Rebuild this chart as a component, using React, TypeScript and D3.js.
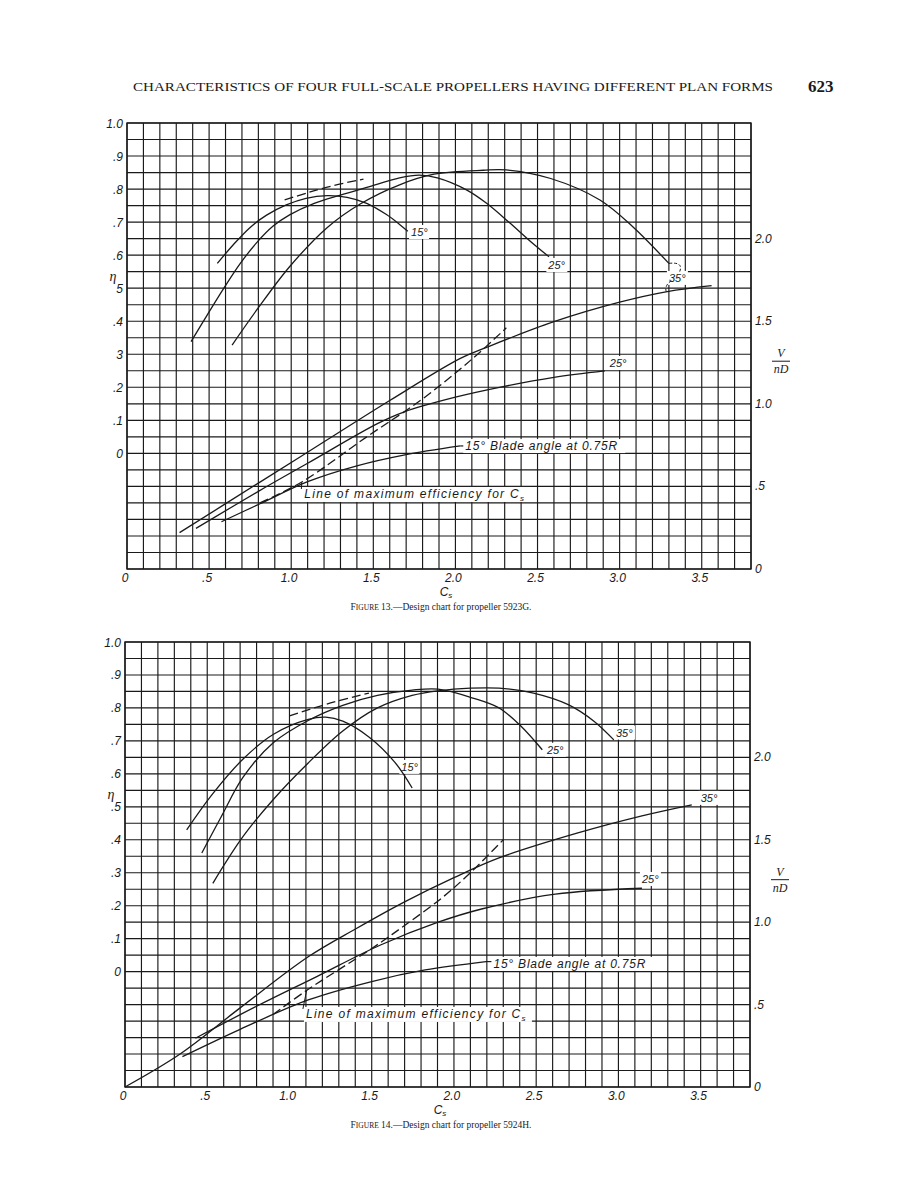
import React from "react";
import * as d3 from "d3";

type P = [number, number];

// ---------- shared axis data ----------
const csTicks = [0, 0.5, 1.0, 1.5, 2.0, 2.5, 3.0, 3.5];
const csTickLabels = ["0", ".5", "1.0", "1.5", "2.0", "2.5", "3.0", "3.5"];
const etaTicks = [1.0, 0.9, 0.8, 0.7, 0.6, 0.5, 0.4, 0.3, 0.2, 0.1, 0];
const etaLabels13 = ["1.0", ".9", ".8", ".7", ".6", "5", ".4", "3", ".2", ".1", "0"];
const etaLabels14 = ["1.0", ".9", ".8", ".7", ".6", ".5", ".4", ".3", ".2", ".1", "0"];
const vTicks = [2.0, 1.5, 1.0, 0.5, 0];
const vTickLabels = ["2.0", "1.5", "1.0", ".5", "0"];

// ---------- Figure 13 (propeller 5923G) ----------
const c13Eta15: P[] = [[0.55,0.575],[0.65,0.633],[0.75,0.684],[0.85,0.721],[0.97,0.752],[1.09,0.772],[1.22,0.780],[1.34,0.775],[1.46,0.757],[1.58,0.723],[1.66,0.693],[1.71,0.672]];
const c13Eta25: P[] = [[0.39,0.338],[0.49,0.42],[0.59,0.50],[0.69,0.575],[0.79,0.638],[0.89,0.688],[0.99,0.722],[1.14,0.757],[1.30,0.782],[1.46,0.805],[1.66,0.834],[1.78,0.842],[1.89,0.834],[2.07,0.797],[2.19,0.757],[2.33,0.698],[2.47,0.636],[2.57,0.595]];
const c13Eta35: P[] = [[0.64,0.328],[0.79,0.434],[0.99,0.565],[1.22,0.684],[1.42,0.755],[1.66,0.813],[1.87,0.845],[2.17,0.857],[2.31,0.858],[2.58,0.832],[2.88,0.767],[3.08,0.686],[3.30,0.575]];
const c13Env: P[] = [[0.96,0.767],[1.10,0.789],[1.26,0.811],[1.44,0.830]];
const c13V15: P[] = [[0.575,0.286],[0.81,0.395],[1.10,0.529],[1.40,0.625],[1.685,0.69],[2.03,0.745]];
const c13V25: P[] = [[0.42,0.246],[0.80,0.47],[1.10,0.64],[1.525,0.88],[1.685,0.95],[2.0,1.04],[2.29,1.104],[2.6,1.16],[2.91,1.199]];
const c13V35: P[] = [[0.32,0.22],[0.8,0.52],[1.2,0.77],[1.6,1.02],[2.03,1.275],[2.19,1.342],[2.6,1.497],[3.0,1.615],[3.29,1.679],[3.56,1.715]];
const c13MaxEff: P[] = [[0.81,0.40],[1.07,0.53],[1.46,0.80],[1.80,1.03],[2.10,1.27],[2.31,1.46]];

// ---------- Figure 14 (propeller 5924H) ----------
const c14Eta15: P[] = [[0.375,0.43],[0.534,0.54],[0.718,0.645],[0.903,0.72],[1.114,0.765],[1.22,0.772],[1.324,0.760],[1.483,0.712],[1.641,0.635],[1.746,0.557]];
const c14Eta25: P[] = [[0.467,0.36],[0.585,0.47],[0.718,0.59],[0.903,0.695],[1.114,0.762],[1.324,0.808],[1.535,0.838],[1.746,0.854],[1.904,0.857],[2.115,0.83],[2.274,0.80],[2.405,0.746],[2.537,0.673]];
const c14Eta35: P[] = [[0.534,0.268],[0.718,0.41],[0.903,0.523],[1.114,0.633],[1.324,0.73],[1.535,0.80],[1.746,0.838],[1.904,0.852],[2.1,0.86],[2.274,0.86],[2.484,0.845],[2.695,0.81],[2.853,0.759],[2.972,0.703]];
const c14Env: P[] = [[1.0,0.776],[1.25,0.815],[1.483,0.845]];
const c14V15: P[] = [[0.349,0.184],[0.7,0.35],[1.114,0.528],[1.5,0.64],[1.825,0.71],[2.195,0.761]];
const c14V25: P[] = [[0.428,0.296],[0.8,0.49],[1.166,0.67],[1.55,0.86],[1.904,1.0],[2.168,1.08],[2.616,1.17],[3.143,1.206]];
const c14V35: P[] = [[0,0],[0.335,0.2],[0.7,0.48],[1.114,0.79],[1.404,0.96],[1.694,1.12],[2.0,1.27],[2.274,1.39],[2.748,1.54],[3.143,1.645],[3.446,1.712]];
const c14MaxEff: P[] = [[0.9,0.44],[1.11,0.59],[1.5,0.84],[1.7,0.98],[1.93,1.15],[2.1,1.30],[2.3,1.50]];

const INK = "#1a1a1a";
const LBL = "'Liberation Sans', Arial, sans-serif";
const SERIF = "'Liberation Serif', 'Times New Roman', serif";

type Series = { data: P[]; axis: "eta" | "v"; dashed?: boolean };
type Label = { text: string; cs: number; val: number; axis: "eta" | "v"; bg?: number; size?: number; ls?: number };

type ChartCfg = {
  left: number; right: number; top: number; bottom: number;
  etaLabels: string[];
  series: Series[];
  labels: Label[];
  v15: P[]; maxEff: P[]; blade: Label; maxLbl: Label;
  caption: string; csLabelX: number;
  arc35?: { eta: P[]; v: P[] };
};

function Chart({ c }: { c: ChartCfg }) {
  const x = d3.scaleLinear().domain([0, 3.8]).range([c.left, c.right]);
  const yV = d3.scaleLinear().domain([0, 2.7]).range([c.bottom, c.top]);
  const yE = d3.scaleLinear().domain([-0.35, 1.0]).range([c.bottom, c.top]);
  const yOf = (axis: "eta" | "v") => (axis === "eta" ? yE : yV);
  const xGrid = d3.range(0, 39).map((i) => i / 10);
  const yGrid = d3.range(0, 28).map((i) => i / 10);
  const mk = (axis: "eta" | "v") =>
    d3.line<P>().x((d) => x(d[0])).y((d) => yOf(axis)(d[1])).curve(d3.curveCatmullRom.alpha(0.5));

  const renderLabel = (l: Label, key: string) => {
    const lx = x(l.cs);
    const ly = yOf(l.axis)(l.val);
    return (
      <text key={key} x={lx} y={ly} fontFamily={LBL} fontStyle="italic" fontSize={l.size ?? 12}
        letterSpacing={l.ls ?? 0} fill={INK}>
        {l.text.endsWith("Cs") ? (
          <>
            {l.text.slice(0, -2)}C<tspan fontSize={8} dy={3}>s</tspan>
          </>
        ) : l.text}
      </text>
    );
  };

  const v15End = c.v15[c.v15.length - 1];
  const bx = x(c.blade.cs);
  const by = yV(c.blade.val);
  const leadPt = c.maxEff[1];
  const mlx = x(c.maxLbl.cs);
  const mly = yV(c.maxLbl.val);

  let arc: React.ReactNode = null;
  if (c.arc35) {
    const e = c.arc35.eta[c.arc35.eta.length - 1];
    const v = c.arc35.v[8];
    const ex = x(e[0]), ey = yE(e[1]);
    const vx = x(v[0]), vy = yV(v[1]);
    arc = (
      <g fill="none" stroke={INK} strokeWidth={1} strokeDasharray="3 2">
        <path d={`M${ex},${ey} Q${ex + 16},${ey - 2} ${ex + 10},${ey + 10}`} />
        <path d={`M${vx + 4},${vy - 11} Q${vx - 3},${vy - 6} ${vx - 1},${vy}`} />
      </g>
    );
  }

  return (
    <g>
      {/* grid */}
      <g stroke={INK} strokeWidth={1.15}>
        {xGrid.map((g) => (
          <line key={"x" + g} x1={x(g)} x2={x(g)} y1={c.top} y2={c.bottom} />
        ))}
        {yGrid.map((g) => (
          <line key={"y" + g} x1={c.left} x2={c.right} y1={yV(g)} y2={yV(g)} />
        ))}
      </g>
      <rect x={c.left} y={c.top} width={c.right - c.left} height={c.bottom - c.top}
        fill="none" stroke={INK} strokeWidth={1.4} />

      {/* label backgrounds */}
      {c.labels.filter((l) => l.bg).map((l, i) => (
        <rect key={"bg" + i} x={x(l.cs) - 2} y={yOf(l.axis)(l.val) - 11} width={l.bg} height={14} fill="#fff" />
      ))}
      <rect x={bx - 2} y={by - 11} width={c.blade.bg} height={14} fill="#fff" />
      <rect x={mlx - 2} y={mly - 11} width={c.maxLbl.bg} height={15} fill="#fff" />

      {/* curves */}
      {c.series.map((s, i) => (
        <path key={"s" + i} d={mk(s.axis)(s.data) || ""} fill="none" stroke={INK}
          strokeWidth={1.3} strokeDasharray={s.dashed ? "9 4" : undefined} />
      ))}
      {arc}

      {/* leaders */}
      <line x1={x(v15End[0])} y1={yV(v15End[1])} x2={bx - 2} y2={yV(v15End[1])} stroke={INK} strokeWidth={1.2} />
      <line x1={mlx - 3} y1={mly - 9} x2={x(leadPt[0]) - 1} y2={yV(leadPt[1]) + 1} stroke={INK} strokeWidth={1} />

      {/* labels */}
      {c.labels.map((l, i) => renderLabel(l, "l" + i))}
      {renderLabel(c.blade, "blade")}
      {renderLabel(c.maxLbl, "maxl")}

      {/* left eta axis */}
      {etaTicks.map((t, i) => (
        <text key={"e" + i} x={c.left - 4} y={yE(t) + 4.5} textAnchor="end" fontFamily={LBL}
          fontStyle="italic" fontSize={12} fill={INK}>{c.etaLabels[i]}</text>
      ))}
      <text x={c.left - 14} y={yE(0.535) + 4} textAnchor="middle" fontFamily={SERIF} fontStyle="italic"
        fontSize={14} fill={INK}>η</text>

      {/* right V/nD axis */}
      {vTicks.map((t, i) => (
        <text key={"v" + i} x={c.right + 4} y={yV(t) + 4} fontFamily={LBL} fontStyle="italic"
          fontSize={12} fill={INK}>{vTickLabels[i]}</text>
      ))}
      <g fontFamily={SERIF} fontStyle="italic" fontSize={12} fill={INK} textAnchor="middle">
        <text x={c.right + 30} y={yV(1.27) - 2}>V</text>
        <line x1={c.right + 21} x2={c.right + 39} y1={yV(1.27) + 2} y2={yV(1.27) + 2} stroke={INK} strokeWidth={1} />
        <text x={c.right + 30} y={yV(1.27) + 14}>nD</text>
      </g>

      {/* bottom Cs axis */}
      {csTicks.map((t, i) => (
        <text key={"c" + i} x={x(t) - 2} y={c.bottom + 13} textAnchor="middle" fontFamily={LBL}
          fontStyle="italic" fontSize={12} fill={INK}>{csTickLabels[i]}</text>
      ))}
      <text x={c.csLabelX} y={c.bottom + 27} textAnchor="middle" fontFamily={LBL} fontStyle="italic"
        fontSize={12} fill={INK}>C<tspan fontSize={8} dy={2}>s</tspan></text>

      {/* caption */}
      <text x={441} y={c.bottom + 41} textAnchor="middle" fontFamily={SERIF} fontSize={9.5} fill={INK}>
        F<tspan fontSize={7.5}>IGURE</tspan>{c.caption}
      </text>
    </g>
  );
}

const chart13: ChartCfg = {
  left: 127, right: 751, top: 123, bottom: 569,
  etaLabels: etaLabels13,
  series: [
    { data: c13Eta15, axis: "eta" },
    { data: c13Eta25, axis: "eta" },
    { data: c13Eta35, axis: "eta" },
    { data: c13Env, axis: "eta", dashed: true },
    { data: c13V15, axis: "v" },
    { data: c13V25, axis: "v" },
    { data: c13V35, axis: "v" },
    { data: c13MaxEff, axis: "v", dashed: true },
  ],
  labels: [
    { text: "15°", cs: 1.73, val: 0.658, axis: "eta", bg: 20, size: 11 },
    { text: "25°", cs: 2.566, val: 0.558, axis: "eta", bg: 21, size: 11 },
    { text: "35°", cs: 3.3, val: 0.519, axis: "eta", bg: 21, size: 11 },
    { text: "25°", cs: 2.94, val: 1.223, axis: "v", bg: 21, size: 11 },
  ],
  v15: c13V15, maxEff: c13MaxEff,
  blade: { text: "15° Blade angle at 0.75R", cs: 2.06, val: 0.72, axis: "v", bg: 162, ls: 0.8 },
  maxLbl: { text: "Line of maximum efficiency for Cs", cs: 1.08, val: 0.43, axis: "v", bg: 228, ls: 1.3 },
  caption: " 13.—Design chart for propeller 5923G.",
  csLabelX: 446,
  arc35: { eta: c13Eta35, v: c13V35 },
};

const chart14: ChartCfg = {
  left: 125, right: 750, top: 642, bottom: 1087,
  etaLabels: etaLabels14,
  series: [
    { data: c14Eta15, axis: "eta" },
    { data: c14Eta25, axis: "eta" },
    { data: c14Eta35, axis: "eta" },
    { data: c14Env, axis: "eta", dashed: true },
    { data: c14V15, axis: "v" },
    { data: c14V25, axis: "v" },
    { data: c14V35, axis: "v" },
    { data: c14MaxEff, axis: "v", dashed: true },
  ],
  labels: [
    { text: "15°", cs: 1.68, val: 0.609, axis: "eta", bg: 20, size: 11 },
    { text: "25°", cs: 2.565, val: 0.661, axis: "eta", bg: 21, size: 11 },
    { text: "35°", cs: 2.985, val: 0.713, axis: "eta", bg: 21, size: 11 },
    { text: "35°", cs: 3.5, val: 1.73, axis: "v", bg: 21, size: 11 },
    { text: "25°", cs: 3.143, val: 1.238, axis: "v", bg: 21, size: 11 },
  ],
  v15: c14V15, maxEff: c14MaxEff,
  blade: { text: "15° Blade angle at 0.75R", cs: 2.24, val: 0.7225, axis: "v", bg: 164, ls: 0.8 },
  maxLbl: { text: "Line of maximum efficiency for Cs", cs: 1.1, val: 0.419, axis: "v", bg: 228, ls: 1.3 },
  caption: " 14.—Design chart for propeller 5924H.",
  csLabelX: 440,
};

export default function App() {
  return (
    <svg width={921} height={1187} viewBox="0 0 921 1187"
      style={{ position: "absolute", left: 0, top: 0, background: "#fff" }}>
      <rect width={921} height={1187} fill="#fff" />
      <text x={133} y={91} fontFamily={SERIF} fontSize={12.5} textLength={640} lengthAdjust="spacingAndGlyphs" fill={INK}>
        CHARACTERISTICS OF FOUR FULL-SCALE PROPELLERS HAVING DIFFERENT PLAN FORMS
      </text>
      <text x={808} y={92} fontFamily={SERIF} fontSize={17} fontWeight={600} fill={INK}>623</text>
      <Chart c={chart13} />
      <Chart c={chart14} />
    </svg>
  );
}
